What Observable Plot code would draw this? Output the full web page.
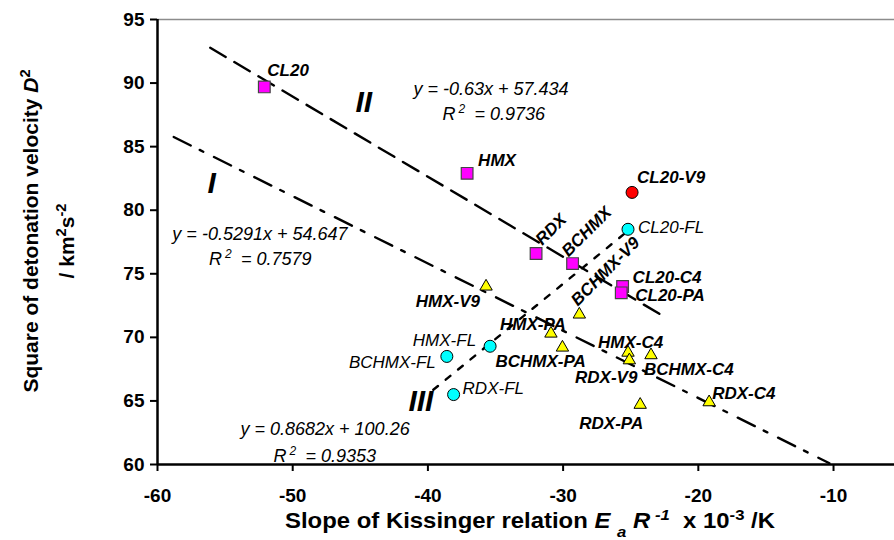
<!DOCTYPE html>
<html><head><meta charset="utf-8">
<script src="https://cdn.jsdelivr.net/npm/d3@7"></script>
<script src="https://cdn.jsdelivr.net/npm/@observablehq/plot@0.6"></script>
<style>body{margin:0;background:#fff}</style>
</head><body><div id="chart"></div>
<script>
// ---- data ----
const names  = ["CL20","HMX","RDX","BCHMX","CL20-C4","CL20-PA","CL20-V9","CL20-FL","HMX-FL","BCHMX-FL","RDX-FL","HMX-V9","BCHMX-V9","HMX-PA","BCHMX-PA","HMX-C4","RDX-V9","BCHMX-C4","RDX-PA","RDX-C4"];
const slopeK = [-52.1,-37.1,-32.0,-29.3,-25.6,-25.7,-24.9,-25.2,-35.4,-38.6,-38.1,-35.7,-28.8,-30.9,-30.05,-25.2,-25.1,-23.5,-24.3,-19.2];
const dSq    = [89.7,82.9,76.6,75.8,74.0,73.5,81.4,78.5,69.3,68.5,65.5,74.0,71.8,70.3,69.2,68.8,68.2,68.6,64.7,64.9];
const kinds  = ["pure","pure","pure","pure","pure","pure","v9","fl","fl","fl","fl","mix","mix","mix","mix","mix","mix","mix","mix","mix"];

const xTicks = [-60,-50,-40,-30,-20,-10];
const yTicks = [60,65,70,75,80,85,90,95];

// trend lines (fitted equations shown on the chart)
const trendIds   = ["I","II","III"];
const trendSlope = [-0.5291,-0.63,0.8682];
const trendInter = [54.647,57.434,100.26];
const trendFrom  = [-58.8,-56.1,-39.6];
const trendTo    = [-10.3,-22.6,-25.2];
const trendEq    = ["y = -0.5291x + 54.647","y = -0.63x + 57.434","y = 0.8682x + 100.26"];
const trendR2    = ["0.7579","0.9736","0.9353"];

// ---- layout / style ----
const dashes = {"I":"19,10,4,12","II":"18,10","III":"6,10"};
const labelLayout = {
  "CL20":{a:"start",dx:3,dy:-11},
  "HMX":{a:"start",dx:11,dy:-7},
  "RDX":{rot:true,dx:15,dy:-24},
  "BCHMX":{rot:true,dx:14,dy:-32},
  "CL20-C4":{a:"start",dx:10,dy:-4},
  "CL20-PA":{a:"start",dx:14,dy:8},
  "CL20-V9":{a:"start",dx:5,dy:-9},
  "CL20-FL":{a:"start",dx:10,dy:4},
  "HMX-FL":{a:"end",dx:-14,dy:0},
  "BCHMX-FL":{a:"end",dx:-11,dy:12},
  "RDX-FL":{a:"start",dx:9,dy:-1},
  "HMX-V9":{a:"end",dx:-6,dy:20},
  "BCHMX-V9":{rot:true,dx:26,dy:-43},
  "HMX-PA":{a:"middle",dx:-18,dy:-4},
  "BCHMX-PA":{a:"start",dx:-67,dy:19},
  "HMX-C4":{a:"start",dx:-30,dy:-5},
  "RDX-V9":{a:"end",dx:8,dy:23},
  "BCHMX-C4":{a:"start",dx:-7,dy:20},
  "RDX-PA":{a:"end",dx:3,dy:24},
  "RDX-C4":{a:"start",dx:3,dy:-3}
};
// annotation anchors in data units
const eqPos  = [[-58.9,77.65],[-41.07,89.03],[-53.86,62.35]];
const r2Pos  = [[-56.2,75.69],[-38.92,87.07],[-51.42,60.23]];
const romPos = [[-56.3,81.34],[-45.36,87.7],[-41.44,64.23]];

const pts = names.map((n,i)=>({name:n,x:slopeK[i],y:dSq[i],kind:kinds[i]}));
const trendData = trendIds.flatMap((id,i)=>[trendFrom[i],trendTo[i]].map(x=>({id,x,y:trendSlope[i]*x+trendInter[i]})));

const FONT = "'Liberation Sans', Arial, sans-serif";

const marks = [
  Plot.ruleY([95],{stroke:"#8c8c8c",strokeWidth:1.5}),
  ...trendIds.map(id=>Plot.line(trendData.filter(d=>d.id===id),{x:"x",y:"y",stroke:"black",strokeWidth:2.4,strokeDasharray:dashes[id]})),
  Plot.ruleX([-60],{stroke:"black",strokeWidth:2.5}),
  Plot.ruleY([60],{stroke:"black",strokeWidth:2.5}),
  Plot.axisY({ticks:yTicks,tickFormat:d=>String(d),tickSize:7,tickPadding:6,strokeWidth:2,fontSize:19,fontWeight:"bold",label:null}),
  Plot.axisX({ticks:xTicks,tickFormat:d=>String(d),tickSize:7,tickPadding:17,strokeWidth:2,fontSize:19,fontWeight:"bold",label:null}),
  Plot.dot(pts.filter(d=>d.kind==="pure"),{x:"x",y:"y",symbol:"square",r:6.6,fill:"#ff00ff",stroke:"#444",strokeWidth:1.2}),
  Plot.dot(pts.filter(d=>d.kind==="mix"),{x:"x",y:"y",symbol:"triangle",r:4.6,fill:"#ffff00",stroke:"black",strokeWidth:1}),
  Plot.dot(pts.filter(d=>d.kind==="fl"),{x:"x",y:"y",r:6,fill:"#00ffff",stroke:"black",strokeWidth:1}),
  Plot.dot(pts.filter(d=>d.kind==="v9"),{x:"x",y:"y",r:6,fill:"#ff0000",stroke:"black",strokeWidth:1}),
  ...pts.map(p=>{
    const L = labelLayout[p.name];
    const base = {x:"x",y:"y",text:"name",fontSize:17,fontStyle:"italic",fontWeight:p.kind==="fl"?"normal":"bold",fill:"black",dx:L.dx,dy:L.dy};
    if (L.rot) return Plot.text([p],{...base,rotate:-45,textAnchor:"middle",lineAnchor:"middle"});
    return Plot.text([p],{...base,textAnchor:L.a,lineAnchor:"bottom"});
  }),
  Plot.text(trendEq,{x:(d,i)=>eqPos[i][0],y:(d,i)=>eqPos[i][1],text:d=>d,textAnchor:"start",lineAnchor:"bottom",fontSize:18,fontStyle:"italic",fontWeight:"normal"}),
  // R² labels: "R", raised "2", then "= value"
  Plot.text(trendR2,{x:(d,i)=>r2Pos[i][0],y:(d,i)=>r2Pos[i][1],text:()=>"R",textAnchor:"start",lineAnchor:"bottom",fontSize:18,fontStyle:"italic",fontWeight:"normal"}),
  Plot.text(trendR2,{x:(d,i)=>r2Pos[i][0],y:(d,i)=>r2Pos[i][1],text:()=>"2",dx:16,dy:-7,textAnchor:"start",lineAnchor:"bottom",fontSize:12,fontStyle:"italic",fontWeight:"normal"}),
  Plot.text(trendR2,{x:(d,i)=>r2Pos[i][0],y:(d,i)=>r2Pos[i][1],text:d=>"= "+d,dx:32,textAnchor:"start",lineAnchor:"bottom",fontSize:18,fontStyle:"italic",fontWeight:"normal"}),
  Plot.text(trendIds,{x:(d,i)=>romPos[i][0],y:(d,i)=>romPos[i][1],text:d=>d,textAnchor:"start",lineAnchor:"bottom",fontSize:30,fontStyle:"italic",fontWeight:"bold"})
];

const chart = Plot.plot({
  width:894, height:540,
  marginLeft:157, marginRight:0, marginTop:19, marginBottom:76,
  x:{domain:[-60,-5.49]},
  y:{domain:[60,95]},
  style:{fontFamily:FONT,fontSize:"19px",background:"white",color:"black"},
  marks
});
document.getElementById("chart").appendChild(chart);

// axis titles with sub/superscripts
const svg = d3.select(chart);
function rich(t, parts){
  parts.forEach(p=>{
    const s = t.append("tspan").text(p.t);
    if (p.i) s.attr("font-style","italic");
    if (p.sup) s.attr("baseline-shift","super").attr("font-size","70%");
    if (p.sub) s.attr("baseline-shift","sub").attr("font-size","70%");
  });
}
const yt1 = svg.append("text").attr("transform","translate(38,231) rotate(-90)")
  .attr("text-anchor","middle").attr("font-weight","bold").attr("font-size",21).attr("font-family",FONT);
rich(yt1,[{t:"Square of detonation velocity "},{t:"D",i:true},{t:"2",sup:true}]);
const yt2 = svg.append("text").attr("transform","translate(74,241) rotate(-90)")
  .attr("text-anchor","middle").attr("font-weight","bold").attr("font-size",21).attr("font-family",FONT);
rich(yt2,[{t:"/ km"},{t:"2",sup:true},{t:"s"},{t:"-2",sup:true}]);
const xt = svg.append("text").attr("x",530).attr("y",528)
  .attr("text-anchor","middle").attr("font-weight","bold").attr("font-size",22).attr("font-family",FONT)
  .attr("textLength",490).attr("lengthAdjust","spacingAndGlyphs");
rich(xt,[{t:"Slope of Kissinger relation "},{t:"E",i:true},{t:" "},{t:"a",i:true,sub:true},{t:" "},{t:"R",i:true},{t:" -1",i:true,sup:true},{t:"  x 10"},{t:"-3",sup:true},{t:" /K"}]);
</script>
</body></html>
